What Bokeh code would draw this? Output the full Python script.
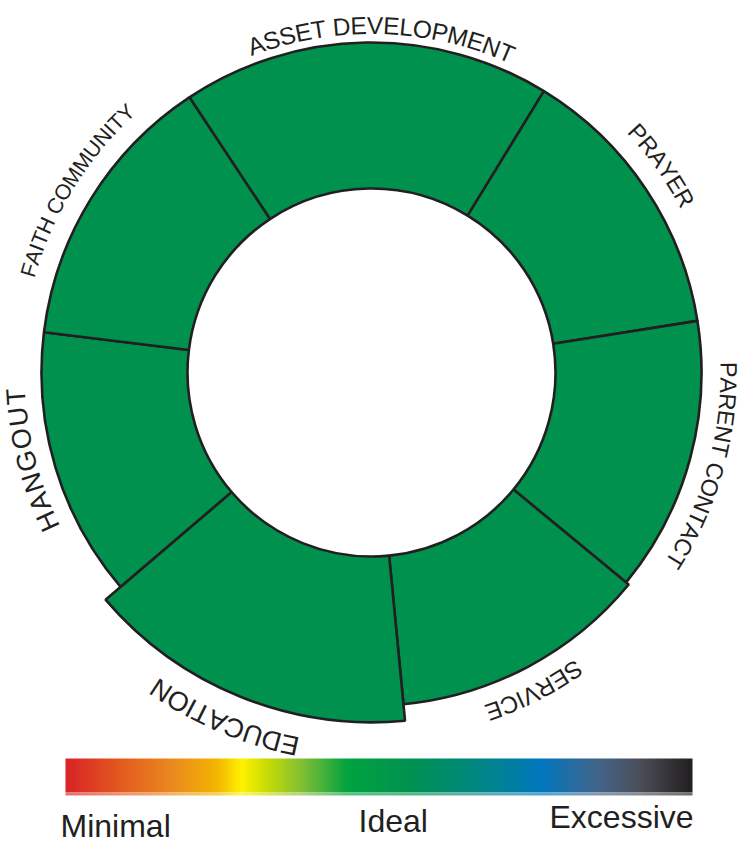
import numpy as np
from bokeh.plotting import figure
from bokeh.models import Range1d, ColorBar, LinearColorMapper, FixedTicker, Label, ColumnDataSource
from bokeh.core.properties import value
from bokeh.embed import file_html
from bokeh.resources import INLINE

# ---------------- data ----------------
categories = ["ASSET DEVELOPMENT", "PRAYER", "PARENT CONTACT", "SERVICE",
              "EDUCATION", "HANGOUT", "FAITH COMMUNITY"]
shares_deg = [65.0, 49.5, 48.5, 45.0, 55.0, 47.5, 49.5]   # angular share of each segment
levels = [1.00, 1.00, 1.00, 1.01, 1.06, 1.00, 1.00]         # outer radius (relative)
scale_labels = ["Minimal", "Ideal", "Excessive"]

# ---------------- layout / style ----------------
W, H = 741, 842
CX, CY = 371, 372          # pixel centre of the ring
S = 330.0                  # pixels per unit radius
INNER = 184 / S
START_COMPASS = 326.5      # clockwise from 12 o'clock, first segment start
GREEN = "#00914f"
INK = "#231f20"
FONT = "Liberation Sans"

p = figure(width=W, height=H, output_backend="svg", toolbar_location=None,
           x_range=Range1d(-CX / S, (W - CX) / S),
           y_range=Range1d(-(H - CY) / S, CY / S),
           min_border=0, x_axis_location=None, y_axis_location=None,
           outline_line_color=None, background_fill_color="white")
p.xgrid.visible = False
p.ygrid.visible = False

# ---------------- ring ----------------
bounds = START_COMPASS + np.concatenate([[0.0], np.cumsum(shares_deg)])
a_c, b_c = bounds[:-1], bounds[1:]
src = ColumnDataSource(dict(
    cat=categories,
    outer=levels,
    start=np.radians(90 - b_c),
    end=np.radians(90 - a_c),
))
p.annular_wedge(x=0, y=0, inner_radius=INNER, outer_radius="outer",
                start_angle="start", end_angle="end", direction="anticlock",
                source=src, fill_color=GREEN, line_color=INK, line_width=2.6)

# ---------------- curved labels ----------------
# per label: centre compass angle (deg), baseline radius (px), font size (px), tracking (px)
label_pos = {
    "ASSET DEVELOPMENT": (1.7, 347, 24.5, 0.0),
    "PRAYER": (54.5, 358, 23.5, 0.0),
    "PARENT CONTACT": (105.6, 357, 23.5, 0.0),
    "SERVICE": (153.0, 360, 24, 0.0),
    "EDUCATION": (203.0, 381, 27, 0.0),
    "HANGOUT": (255.6, 356, 27, 2.0),
    "FAITH COMMUNITY": (301.7, 357, 21.5, 0.0),
}
WID = dict(A=.667, B=.667, C=.722, D=.722, E=.667, F=.611, G=.778, H=.722, I=.278,
           J=.5, K=.667, L=.556, M=.833, N=.722, O=.778, P=.667, Q=.778, R=.722,
           S=.667, T=.611, U=.722, V=.667, W=.944, X=.667, Y=.667, Z=.611)
WID[" "] = .278

cx, cy, ct, ca, cs = [], [], [], [], []
for name in categories:
    th0, rb, fs, trk = label_pos[name]
    ws = [WID.get(ch, .6) * fs + trk for ch in name]
    total = sum(ws) - trk
    s = -total / 2
    for ch, w in zip(name, ws):
        mid = s + (w - trk) / 2
        s += w
        if ch == " ":
            continue
        th = np.radians(th0) + mid / rb
        r = rb / S
        cx.append(r * np.sin(th))
        cy.append(r * np.cos(th))
        ct.append(ch)
        ca.append(-th)
        cs.append(f"{fs}px")
chars = ColumnDataSource(dict(x=cx, y=cy, text=ct, angle=ca, size=cs))
p.text(x="x", y="y", text="text", angle="angle", source=chars,
       text_font=value(FONT), text_font_size="size", text_color=INK,
       text_align="center", text_baseline="alphabetic")

# ---------------- colour scale ----------------
stops = [(0.00, "#d92326"), (0.08, "#e2561f"), (0.17, "#eb8a1f"), (0.24, "#f4b400"),
         (0.28, "#fff200"), (0.32, "#c9dc06"), (0.38, "#7dbd36"), (0.45, "#00a33f"),
         (0.55, "#009150"), (0.65, "#00877e"), (0.76, "#0077bd"), (0.85, "#42648a"),
         (0.92, "#4a4d57"), (1.00, "#231f20")]
sp = np.array([s for s, _ in stops])
rgb = np.array([[int(c[i:i + 2], 16) for i in (1, 3, 5)] for _, c in stops], dtype=float)
tt = np.linspace(0, 1, 256)


def make_palette(lighten):
    out = []
    for t in tt:
        c = [np.interp(t, sp, rgb[:, k]) for k in range(3)]
        c = [int(round(v + (255 - v) * lighten)) for v in c]
        out.append("#%02x%02x%02x" % tuple(c))
    return out


def bar(palette, h, bottom_px):
    return ColorBar(color_mapper=LinearColorMapper(palette=palette, low=0, high=1),
                    orientation="horizontal", width=627, height=h,
                    location=(65, H - bottom_px), padding=0, margin=0, label_standoff=0,
                    ticker=FixedTicker(ticks=[]), major_tick_line_color=None,
                    minor_tick_line_color=None, major_label_text_font_size="0px",
                    bar_line_color=None, border_line_color=None, background_fill_alpha=0)


p.add_layout(bar(make_palette(0.0), 34, 792))
p.add_layout(bar(make_palette(0.35), 3, 795))

label_px = [(60, 825), (358, 820), (549, 816)]
for txt, (lx, ly) in zip(scale_labels, label_px):
    p.add_layout(Label(x=(lx - CX) / S, y=(CY - ly) / S, text=txt,
                       text_font=FONT, text_font_size="32px", text_color=INK,
                       text_align="left", text_baseline="alphabetic"))

open("out.html", "w").write(file_html(p, INLINE))
